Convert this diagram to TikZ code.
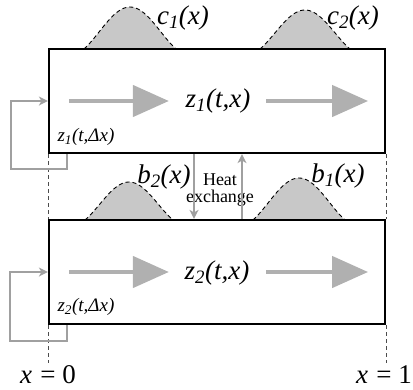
\documentclass[tikz,border=0pt]{standalone}
\usepackage{fontspec}
\setmainfont{Liberation Serif}[ItalicFont={Liberation Serif Italic}]
\usetikzlibrary{arrows.meta,positioning,calc}
\definecolor{bumpgray}{HTML}{C8C8C8}
\definecolor{flowgray}{HTML}{B0B0B0}
\definecolor{linegray}{HTML}{A0A0A0}
\newcommand{\bigfont}{\fontsize{27}{30}\selectfont}
\newcommand{\smallfont}{\fontsize{19}{21}\selectfont}
\newcommand{\heatfont}{\fontsize{18}{17}\selectfont}
% bump: centre x, base y, half width, height
\newcommand{\bump}[4]{%
  \path[bumpline] plot[domain=-1:1, samples=41]
    ({#1+#3*\x}, {#2-#4*(cos(135*\x)+0.7071)/1.7071});}

\begin{document}
\begin{tikzpicture}[
  x=1pt, y=-1pt,
  tank/.style={draw, line width=2.2pt, minimum width=336pt, minimum height=104pt, inner sep=0pt},
  bumpline/.style={fill=bumpgray, draw, dashed, line width=0.9pt, dash pattern=on 4pt off 3pt},
  flow/.style={line width=4.5pt, draw=flowgray, -{Triangle[length=36pt, width=31pt]}},
  fb/.style={draw=linegray, line width=1.5pt, -{Stealth[length=9pt, width=9pt, inset=2.5pt]}},
  guide/.style={draw=black!70, line width=0.6pt, dash pattern=on 4pt off 3pt}
]
\useasboundingbox (0,0) rectangle (413,389);

% profiles
\bump{130}{49}{46}{42}
\bump{305}{49}{45}{39}
\bump{129}{220}{44}{38}
\bump{299}{220}{46}{42}

% the two channels
\node[tank] (top) at (217,101) {};
\node[tank] (bot) at (217,272) {};

% guides at x=0 and x=1
\draw[guide] (top.south west) -- (bot.north west);
\draw[guide] (bot.south west) -- ++(0,38) coordinate (endzero);
\draw[guide] (top.south east) -- (bot.north east);
\draw[guide] (bot.south east) -- ++(0,38) coordinate (endone);

% flow
\node (z1) at (218,101) {\bigfont\itshape z\textsubscript{1}(t,x)};
\node (z2) at (217,273) {\bigfont\itshape z\textsubscript{2}(t,x)};
\draw[flow] ([xshift=21pt]top.west) -- ++(100,0);
\draw[flow] ([xshift=49pt]top.center) -- ([xshift=-18pt]top.east);
\draw[flow] ([xshift=21pt]bot.west) -- ++(100,0);
\draw[flow] ([xshift=49pt]bot.center) -- ([xshift=-18pt]bot.east);

% recycle loops
\node (z1dx) at (86,137) {\smallfont\itshape z\textsubscript{1}(t,\symbol{"0394}x)};
\node (z2dx) at (86,307) {\smallfont\itshape z\textsubscript{2}(t,\symbol{"0394}x)};
\draw[fb] ([xshift=19pt]top.south west) -- ++(0,15) -| ([xshift=-37pt]top.west) -- (top.west);
\draw[fb] ([xshift=19pt]bot.south west) -- ++(0,16) -| ([xshift=-38pt]bot.west) -- (bot.west);

% heat exchange
\node[align=center, font=\heatfont, inner sep=0pt] (heat) at (220,190) {Heat\\exchange};
\draw[fb] ([xshift=-23pt]top.south) -- ([xshift=-23pt]bot.north);
\draw[fb] ([xshift=25pt]bot.north) -- ([xshift=25pt]top.south);

% profile labels
\node (c1) at (183,18) {\bigfont\itshape c\textsubscript{1}(x)};
\node (c2) at (353,18) {\bigfont\itshape c\textsubscript{2}(x)};
\node (b2) at (164,177) {\bigfont\itshape b\textsubscript{2}(x)};
\node (b1) at (338,176) {\bigfont\itshape b\textsubscript{1}(x)};

% ends
\node (xzero) at (48,375) {\bigfont\textit{x}\hspace{0.3em}=\hspace{0.25em}0};
\node (xone) at (384,375) {\bigfont\textit{x}\hspace{0.3em}=\hspace{0.25em}1};
\end{tikzpicture}
\end{document}
